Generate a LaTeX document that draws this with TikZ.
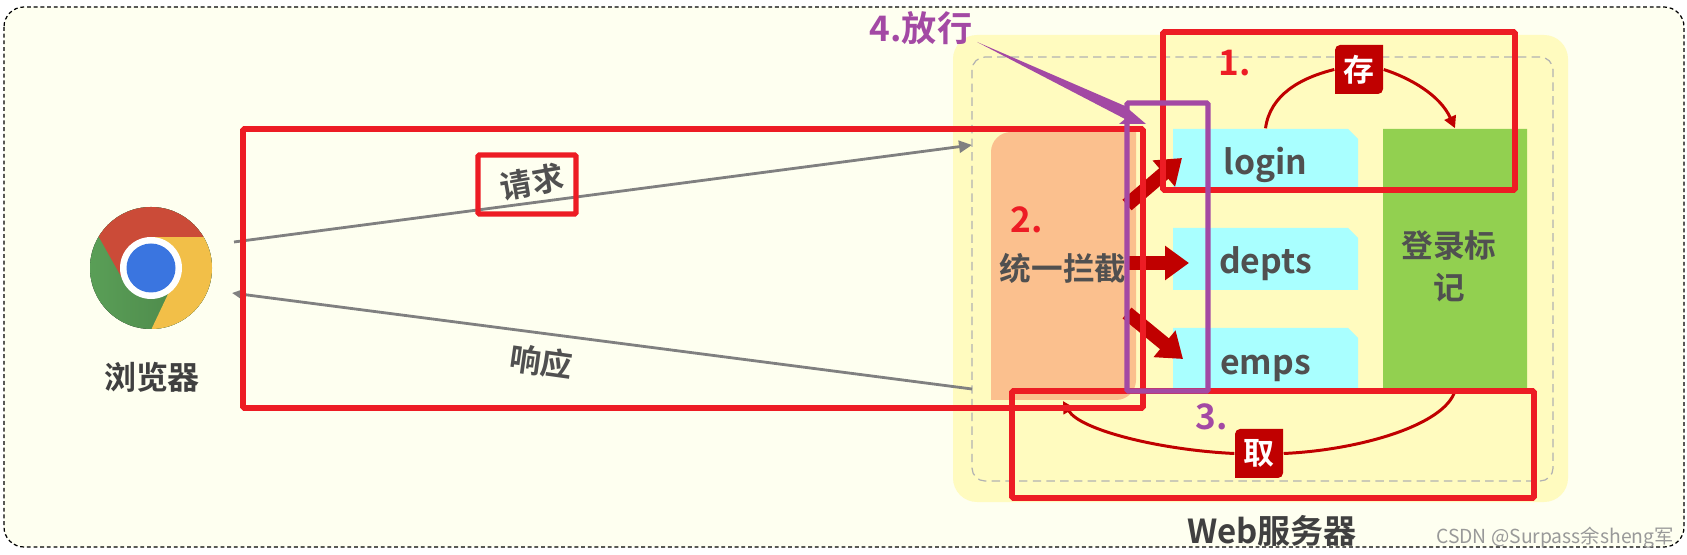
\documentclass[tikz,border=0pt]{standalone}
\usepackage{fontspec}
\setmainfont{Noto Sans CJK SC}[BoldFont=Noto Sans CJK SC Bold]
\usepackage{tikz}
\usetikzlibrary{
    arrows.meta,
    shapes.misc
}
\definecolor{paper}{HTML}{FEFFF0}
\definecolor{serverbg}{HTML}{FFFBBF}
\definecolor{gatebg}{HTML}{FBC08E}
\definecolor{docbg}{HTML}{A9FFFF}
\definecolor{markbg}{HTML}{92D050}
\definecolor{darkred}{HTML}{C00000}
\definecolor{markred}{HTML}{ED1C24}
\definecolor{markpurple}{HTML}{A349A4}
\definecolor{inktext}{HTML}{505050}
\definecolor{iconred}{HTML}{CB4B38}
\definecolor{iconyellow}{HTML}{F2BF48}
\definecolor{icongreen}{HTML}{5BA158}
\definecolor{iconblue}{HTML}{3A75E0}
\tikzset{
  boxtext/.style={font=\fontsize{9pt}{12pt}\selectfont\bfseries,text=inktext,inner sep=0pt,align=center},
  docbox/.style={chamfered rectangle,chamfered rectangle corners=north east,
    chamfered rectangle xsep=0.1cm,chamfered rectangle ysep=0.1cm,fill=docbg,
    minimum width=1.85cm,inner sep=0pt,font=\fontsize{9.6pt}{11pt}\selectfont\bfseries,text=inktext},
  badge/.style={font=\fontsize{8.8pt}{10pt}\selectfont\bfseries,text=white,inner sep=0pt,
    minimum width=0.48cm,minimum height=0.49cm},
  flow/.style={-{Triangle[length=0.13cm,width=0.12cm]},draw=gray,line width=0.8pt},
  fatflow/.style={-{Triangle[length=0.24cm,width=0.33cm]},draw=darkred,line width=0.14cm},
  thinflow/.style={draw=darkred,line width=0.85pt},
  redbox/.style={draw=markred,line width=1.6pt,rounded corners=0.4pt},
  purplebox/.style={draw=markpurple,line width=1.5pt,rounded corners=0.4pt},
  stepnum/.style={font=\fontsize{10pt}{12pt}\selectfont\bfseries,inner sep=0pt}
}
\begin{document}
\begin{tikzpicture}

\useasboundingbox (0,0) rectangle (16.87,-5.55);

% Outer frame
\draw[fill=paper,line width=0.35pt,dash pattern=on 1.1pt off 0.8pt,rounded corners=0.2cm] (0.04,-0.07) rectangle (16.84,-5.47);

% Server
\fill[serverbg,rounded corners=0.24cm] (9.53,-0.35) rectangle (15.68,-5.02);
\draw[gray!60,line width=0.35pt,dash pattern=on 2.4pt off 1.5pt,rounded corners=0.13cm] (9.72,-0.57) rectangle (15.53,-4.81);

% Gate
\fill[gatebg] (9.91,-4.00) [rounded corners=0.2cm] -- (9.91,-1.32) [sharp corners] -- (11.36,-1.32)
  [rounded corners=0.2cm] -- (11.36,-4.00) [sharp corners] -- cycle;
\node[boxtext] (gate) at (10.63,-2.68) {统一拦截};

% Resources
\foreach \name/\y/\h/\d in {login/1.58/0.58/0.17,depts/2.59/0.62/0.15,emps/3.58/0.60/0.17}
  \node[docbox,minimum height=\h cm] (\name) at (12.655,-\y) {\raisebox{-\d cm}[0pt][0pt]{\name}};

% Login mark
\node[docbox,chamfered rectangle xsep=0.25cm,chamfered rectangle ysep=0.25cm,fill=markbg,
  minimum width=1.44cm,minimum height=2.61cm] (mark) at (14.55,-2.595) {};
\node[boxtext] (marktext) at (14.49,-2.66) {登录标\\记};

% Browser icon
\begin{scope}
  \clip (1.51,-2.68) circle (0.61);
  \fill[left color=icongreen,right color=icongreen!80!black] (0.8,-2) rectangle (2.2,-3.4);
  \fill[iconyellow] (1.51,-2.37) -- (2.2,-2.37) -- (2.2,-3.4) -- (1.51,-3.4) -- (1.52,-3.28) -- (1.78,-2.73) -- cycle;
  \fill[iconred] (1.51,-2.37) -- (2.2,-2.37) -- (2.2,-2.0) -- (0.8,-2.0) -- (0.8,-2.02) -- (0.995,-2.38) -- (1.23,-2.8) -- cycle;
\end{scope}
\fill[white] (1.51,-2.68) circle (0.31);
\fill[iconblue] (1.51,-2.68) circle (0.245);
\node[boxtext,font=\fontsize{9.1pt}{10pt}\selectfont\bfseries,text=black!75] (browser) at (1.52,-3.77) {浏览器};
\node[boxtext,font=\fontsize{9.4pt}{12pt}\selectfont\bfseries,text=black!75] (server) at (12.72,-5.31) {Web服务器};

% Request and response
\coordinate (reqstart) at (2.34,-2.42);
\coordinate (reqend) at (9.72,-1.45);
\coordinate (respstart) at (9.72,-3.89);
\coordinate (respend) at (2.32,-2.93);
\draw[flow] (reqstart) -- (reqend);
\draw[flow] (respstart) -- (respend);
\node[boxtext,rotate=10] (req) at (5.32,-1.82) {请求};
\node[boxtext,rotate=-8] (resp) at (5.41,-3.62) {响应};

% Gate to resources
\coordinate (gatea) at (11.27,-2.05);
\coordinate (gateb) at (11.28,-2.63);
\coordinate (gatec) at (11.27,-3.13);
\coordinate (loginin) at (11.82,-1.58);
\coordinate (deptsin) at (11.89,-2.63);
\coordinate (empsin) at (11.83,-3.59);
\draw[fatflow] (gatea) -- (loginin);
\draw[fatflow] (gateb) -- (deptsin);
\draw[fatflow] (gatec) -- (empsin);

% Store
\fill[darkred] (13.59,-0.94) -- (13.35,-0.94) [rounded corners=0.05cm] -- (13.35,-0.45) [sharp corners] -- (13.83,-0.45)
  [rounded corners=0.05cm] -- (13.83,-0.94) [sharp corners] -- cycle;
\node[badge] (cun) at (13.59,-0.695) {存};
\draw[thinflow] (login.north) .. controls (12.70,-0.95) and (13.00,-0.78) .. (cun.west);
\draw[thinflow,-{Triangle[length=0.12cm,width=0.12cm]}] (cun.east) .. controls (14.10,-0.78) and (14.40,-0.95) .. (mark.north);

% Fetch
\fill[darkred] (12.59,-4.78) -- (12.35,-4.78) [rounded corners=0.05cm] -- (12.35,-4.29) [sharp corners] -- (12.83,-4.29)
  [rounded corners=0.05cm] -- (12.83,-4.78) [sharp corners] -- cycle;
\node[badge] (qu) at (12.59,-4.535) {取};
\coordinate (gateback) at (10.63,-4.01);
\draw[thinflow] (mark.south) .. controls (14.45,-4.25) and (13.60,-4.50) .. (qu.east);
\draw[thinflow,-{Triangle[length=0.12cm,width=0.12cm]}] (qu.west) .. controls (11.60,-4.50) and (10.80,-4.30) .. (gateback);

% Red frames
\draw[redbox] (11.63,-0.32) rectangle (15.15,-1.90);
\draw[redbox] (2.43,-1.29) rectangle (11.43,-4.08);
\draw[redbox] (10.12,-3.91) rectangle (15.34,-4.98);
\draw[redbox,line width=1.5pt] (4.78,-1.55) rectangle (5.76,-2.14);

% Purple frame
\draw[purplebox] (11.27,-1.03) rectangle (12.08,-3.91);

% Pass arrow
\coordinate (passtail) at (9.77,-0.42);
\coordinate (passupper) at (11.25,-1.06);
\coordinate (passtip) at (11.46,-1.24);
\coordinate (passbarb) at (11.19,-1.24);
\coordinate (passnotch) at (11.25,-1.19);
\fill[markpurple] (passtail) -- (passupper) -- (passtip) -- (passbarb) -- (passnotch) -- cycle;

% Step labels
\node[stepnum,text=markred] (one) at (12.35,-0.63) {1.};
\node[stepnum,text=markred] (two) at (10.27,-2.20) {2.};
\node[stepnum,text=markpurple] (three) at (12.12,-4.17) {3.};
\node[stepnum,text=markpurple] (four) at (9.21,-0.28) {4.放行};

% Watermark
\node[inner sep=0pt,text=gray!80,font=\fontsize{5.5pt}{7pt}\selectfont] (csdn) at (15.55,-5.38) {CSDN @Surpass余sheng军};

\end{tikzpicture}
\end{document}
